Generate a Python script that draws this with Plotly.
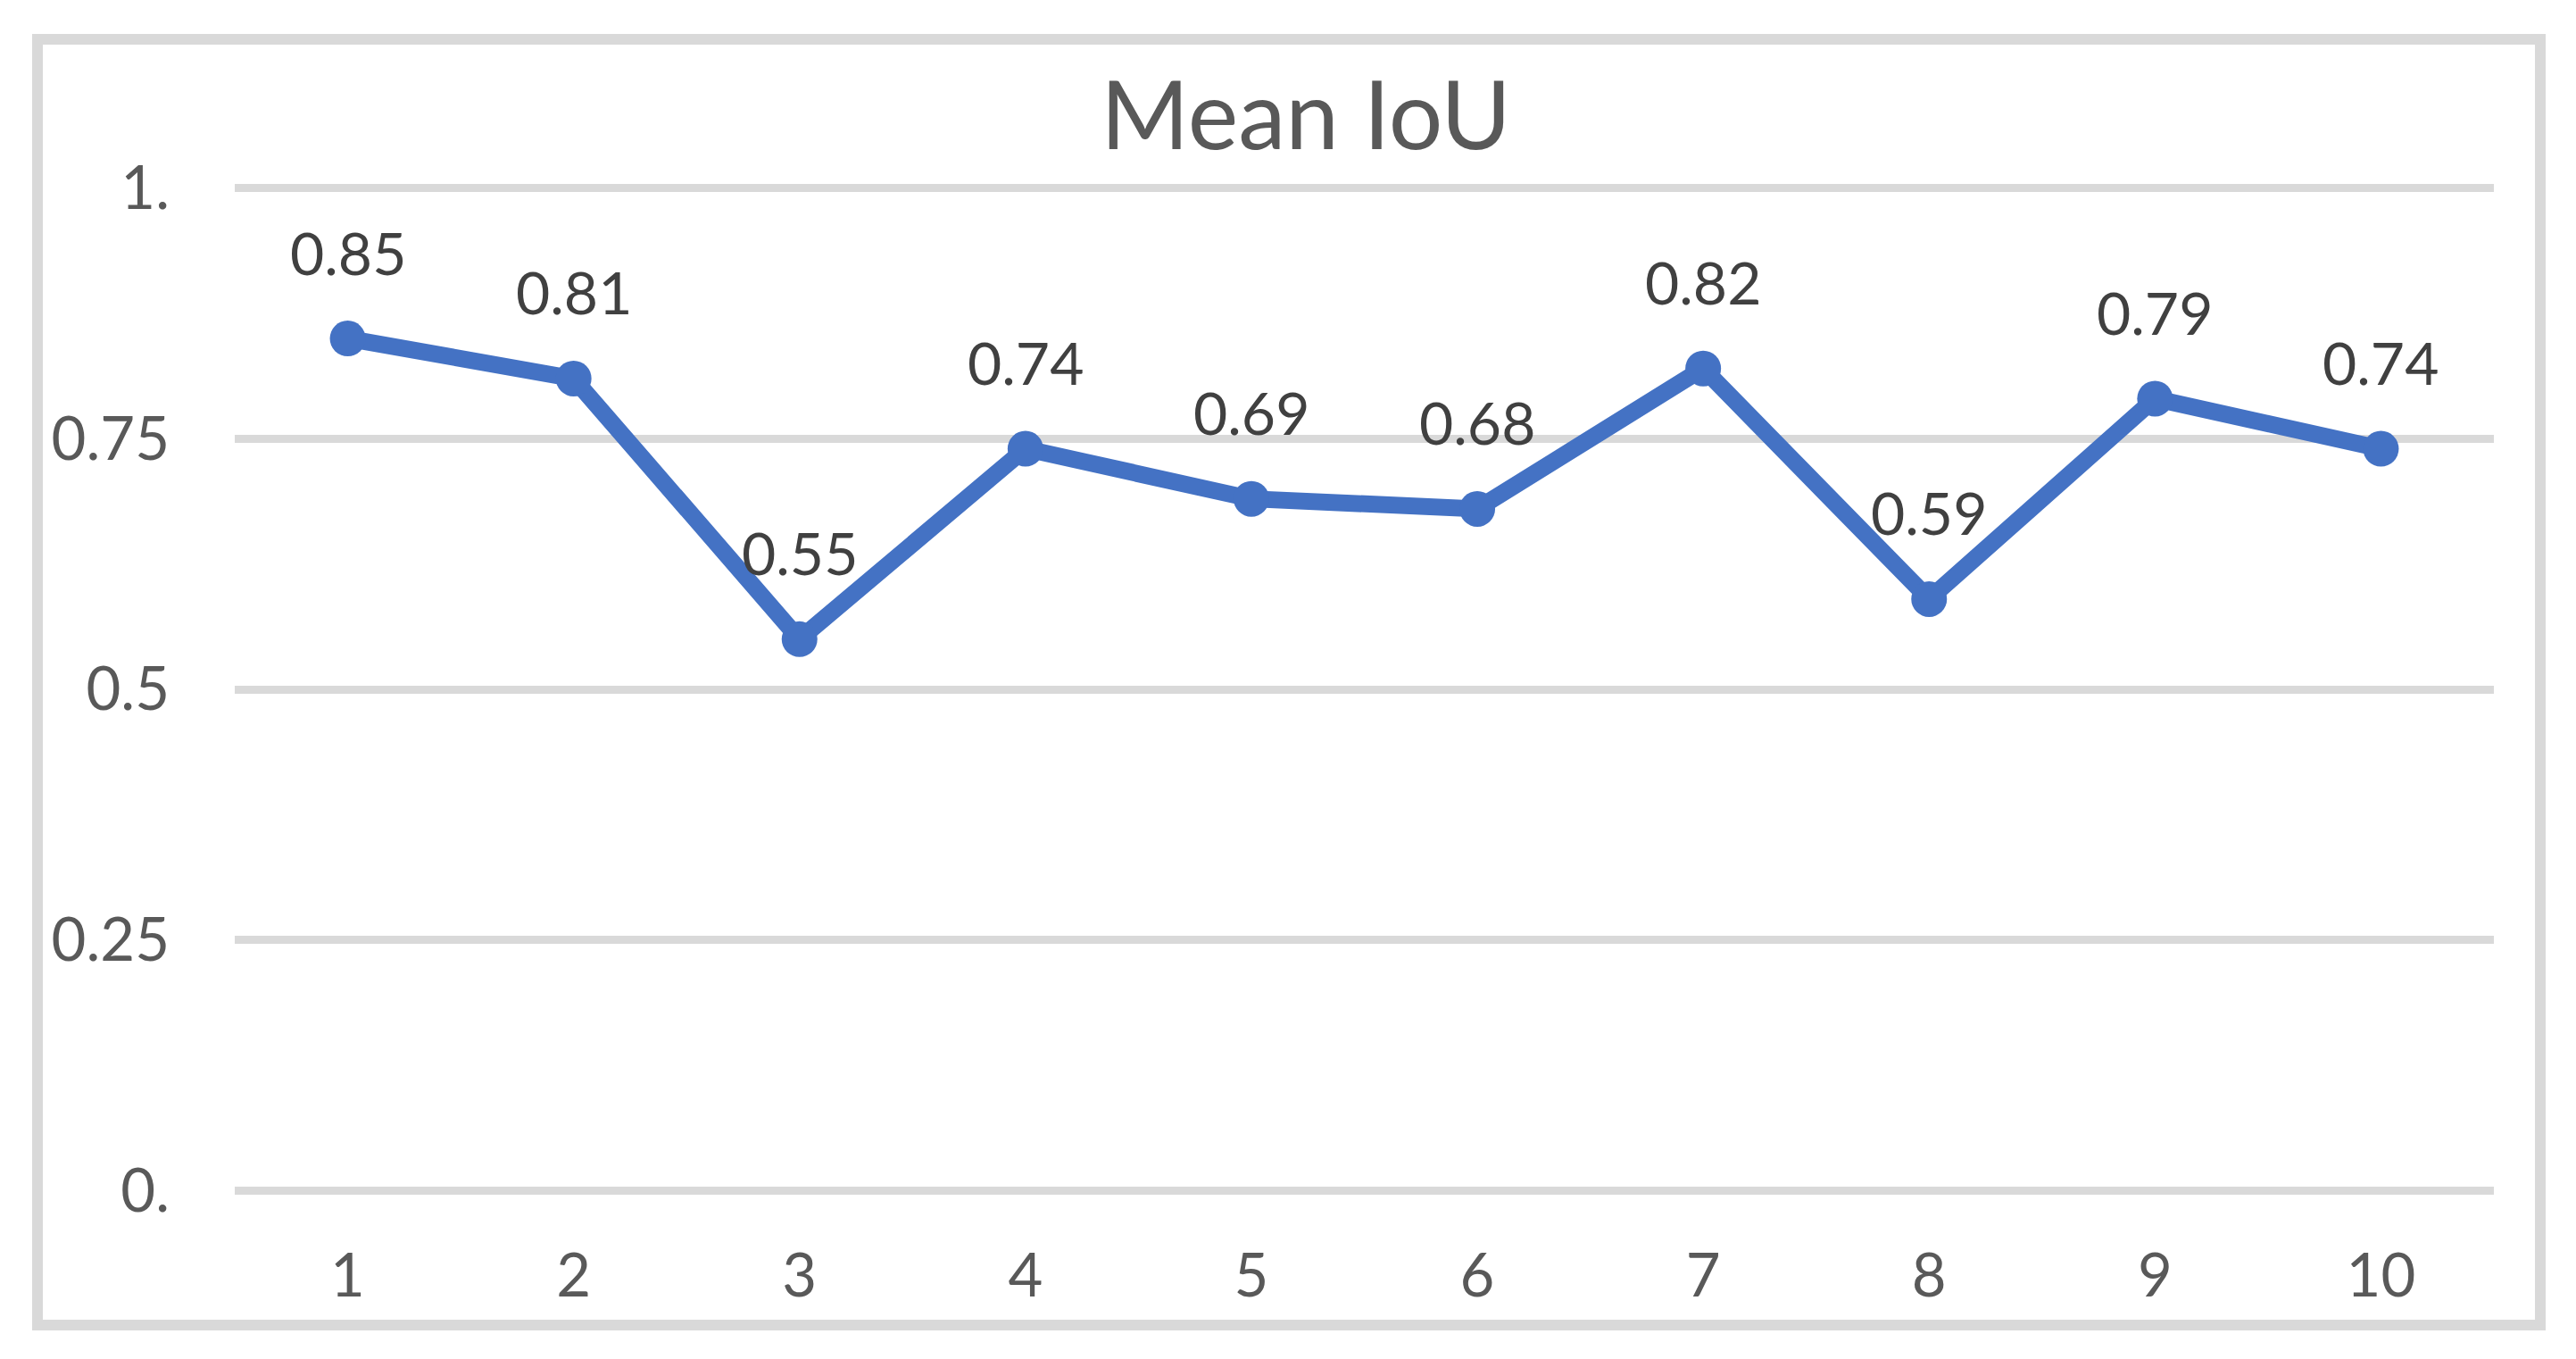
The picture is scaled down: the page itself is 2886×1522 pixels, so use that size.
import plotly.graph_objects as go

# ---- data ----
categories = [1, 2, 3, 4, 5, 6, 7, 8, 9, 10]
mean_iou = [0.85, 0.81, 0.55, 0.74, 0.69, 0.68, 0.82, 0.59, 0.79, 0.74]
data_labels = ["0.85", "0.81", "0.55", "0.74", "0.69", "0.68", "0.82", "0.59", "0.79", "0.74"]
y_tickvals = [0, 0.25, 0.5, 0.75, 1.0]
y_ticktext = ["0.", "0.25", "0.5", "0.75", "1."]
x_ticktext = [str(c) for c in categories]
title_text = "Mean IoU"

# ---- layout constants ----
W, H = 2886, 1522
ML, MR, MT, MB = 255, 100, 197, 191
FONT = "Lato"
GRID = "#d9d9d9"
BLUE = "#4472C4"

pw = W - ML - MR
ph = H - MT - MB


def px_x(p):
    return (p - ML) / pw


def px_y(p):
    return (H - MB - p) / ph


fig = go.Figure()
fig.add_trace(go.Scatter(
    x=categories, y=mean_iou, mode="lines+markers",
    line=dict(color=BLUE, width=19),
    marker=dict(color=BLUE, size=40, line=dict(width=0)),
    hoverinfo="x+y", showlegend=False,
))

annotations = []
for c, v, t in zip(categories, mean_iou, data_labels):
    annotations.append(dict(
        x=c, y=v, xref="x", yref="y", text=t, showarrow=False,
        yanchor="middle", xanchor="center", yshift=97,
        font=dict(family=FONT, size=66, color="#404040"),
    ))

# title
annotations.append(dict(
    x=px_x(1455), y=px_y(117), xref="paper", yref="paper", text=title_text,
    showarrow=False, xanchor="center", yanchor="middle",
    font=dict(family=FONT, size=107, color="#595959"),
))

shapes = [dict(
    type="rect", xref="paper", yref="paper",
    x0=px_x(34), x1=px_x(2838), y0=px_y(1476), y1=px_y(36),
    line=dict(color=GRID, width=12), fillcolor="rgba(0,0,0,0)", layer="below",
)]

fig.update_layout(
    width=W, height=H,
    margin=dict(l=ML, r=MR, t=MT, b=MB, pad=0),
    paper_bgcolor="white", plot_bgcolor="white",
    annotations=annotations, shapes=shapes,
    font=dict(family=FONT, color="#595959"),
)
fig.update_xaxes(
    range=[0.5, 10.5], tickmode="array", tickvals=categories, ticktext=x_ticktext,
    showgrid=False, zeroline=False, showline=False, ticks="",
    tickfont=dict(family=FONT, size=67, color="#595959"),
    ticklabelstandoff=45, fixedrange=True,
)
fig.update_yaxes(
    range=[-0.005, 1.005], tickmode="array", tickvals=y_tickvals, ticktext=y_ticktext,
    showgrid=True, gridcolor=GRID, gridwidth=9, zeroline=False, showline=False, ticks="",
    tickfont=dict(family=FONT, size=67, color="#595959"),
    ticklabelstandoff=72, fixedrange=True,
)

fig.write_html("out.html", config={"displayModeBar": False})
